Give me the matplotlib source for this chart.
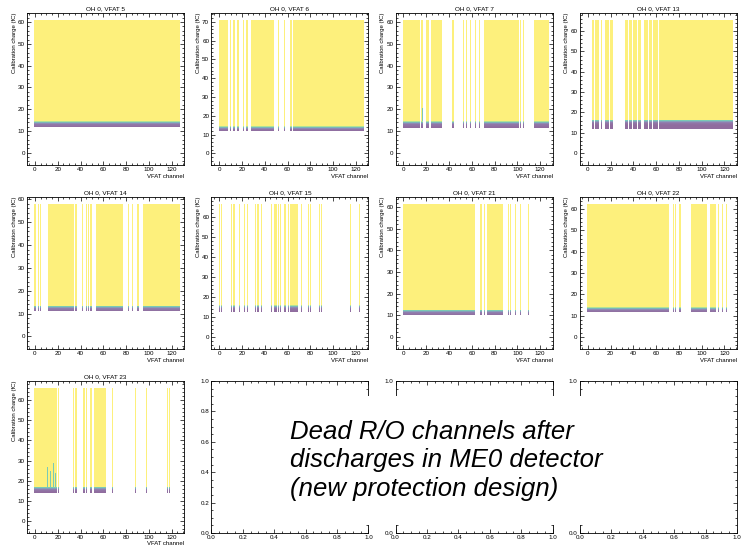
import numpy as np
import matplotlib
matplotlib.use("Agg")
import matplotlib.pyplot as plt
from matplotlib.ticker import MultipleLocator, AutoMinorLocator

plt.rcParams["font.family"] = ["Liberation Sans", "DejaVu Sans"]

vfats = [5, 6, 7, 13, 14, 15, 21, 22, 23]
# end of the calibration scan (fC), differs per VFAT
charge_max = [61.0, 71.0, 61.0, 65.5, 58.0, 66.5, 61.5, 62.5, 66.0]
charge_min = -2.5
bin_fc = 0.25
# charge where the channel reaches full efficiency (fC)
full_eff = [14.5, 14.5, 14.5, 16.5, 13.5, 16.0, 12.5, 14.0, 17.0]
# how far the turn-on tail reaches below full efficiency (fC)
tail = [2.5, 2.5, 3.0, 4.5, 2.5, 3.5, 2.5, 2.5, 3.0]

# channels still responding, as (first, last) ranges
alive_channels = {
    5: [(0, 127)],
    6: [(0, 7), (10, 10), (13, 13), (16, 17), (21, 21), (24, 25), (28, 48),
        (52, 52), (57, 57), (63, 63), (65, 127)],
    7: [(0, 14), (16, 17), (20, 22), (25, 33), (43, 44), (53, 53), (55, 55),
        (59, 59), (63, 63), (67, 67), (71, 101), (103, 103), (105, 105),
        (115, 127)],
    13: [(4, 5), (7, 9), (12, 12), (16, 18), (20, 22), (33, 35), (37, 38),
         (40, 43), (45, 46), (50, 52), (54, 56), (58, 61), (63, 127)],
    14: [(0, 0), (3, 3), (5, 5), (12, 34), (36, 36), (42, 42), (45, 45),
         (47, 47), (49, 50), (54, 77), (82, 82), (86, 86), (90, 91), (95, 127)],
    15: [(0, 0), (2, 2), (11, 11), (13, 13), (18, 18), (22, 22), (25, 25),
         (32, 32), (34, 34), (37, 37), (46, 46), (49, 50), (52, 52), (54, 54),
         (57, 58), (61, 61), (63, 69), (72, 72), (78, 78), (80, 80), (88, 88),
         (90, 90), (115, 115), (123, 123)],
    21: [(0, 62), (68, 68), (71, 71), (74, 87), (92, 92), (94, 94), (98, 98),
         (103, 103), (110, 110)],
    22: [(0, 71), (75, 75), (77, 77), (81, 81), (91, 104), (108, 112),
         (115, 115), (118, 118), (122, 122)],
    23: [(0, 19), (21, 21), (34, 34), (36, 36), (43, 43), (45, 45), (49, 50),
         (52, 62), (68, 68), (88, 88), (98, 98), (116, 116), (118, 118)],
}
# channels with a slow turn-on: channel -> extra fC before full efficiency
slow_channels = {7: {17: 6.0}, 23: {11: 10.0, 14: 8.0, 16: 12.0, 18: 7.0}}
slow_level = 0.6

# occupancy in the 0.25 fC bins just below full efficiency, going down
turn_on = [0.8, 0.6, 0.45, 0.3, 0.18, 0.12, 0.08, 0.06, 0.05, 0.04, 0.04,
           0.03, 0.03, 0.03, 0.03, 0.03, 0.03, 0.03, 0.03, 0.03]


def occupancy(i):
    vf = vfats[i]
    y_edges = np.arange(charge_min, charge_max[i] + 0.01, bin_fc)
    yc = 0.5 * (y_edges[:-1] + y_edges[1:])
    z = np.zeros((len(yc), 128))
    below = np.where(yc < full_eff[i])[0][::-1]
    n_tail = int(tail[i] / bin_fc)
    for lo, hi in alive_channels[vf]:
        for ch in range(lo, hi + 1):
            start = full_eff[i] + slow_channels.get(vf, {}).get(ch, 0.0)
            z[yc >= start, ch] = 1.0
            z[(yc >= full_eff[i]) & (yc < start), ch] = slow_level
            for k, j in enumerate(below[:n_tail]):
                z[j, ch] = turn_on[k]
    return y_edges, np.ma.masked_equal(z, 0)


def style_axes(ax):
    ax.tick_params(which="both", direction="in", top=True, right=True,
                   width=0.5, labelsize=4.5, pad=1.5)
    ax.tick_params(which="major", length=3)
    ax.tick_params(which="minor", length=1.5)
    ax.xaxis.set_minor_locator(AutoMinorLocator())
    ax.yaxis.set_minor_locator(AutoMinorLocator())
    for s in ax.spines.values():
        s.set_linewidth(0.6)


fig, axes = plt.subplots(3, 4, figsize=(7.41, 5.52), dpi=100)
fig.subplots_adjust(left=0.0364, right=0.9946, top=0.9764, bottom=0.0344,
                    wspace=0.172, hspace=0.21)
axes = axes.ravel()

x_edges = np.arange(129) - 0.5
for i, vf in enumerate(vfats):
    ax = axes[i]
    y_edges, z = occupancy(i)
    ax.pcolormesh(x_edges, y_edges, z, cmap="viridis", vmin=0, vmax=1,
                  alpha=0.6, shading="flat", edgecolors="none")
    r = charge_max[i] - charge_min
    ax.set_xlim(-7, 131)
    ax.set_ylim(charge_min - 0.05 * r, charge_max[i] + 0.05 * r)
    ax.xaxis.set_major_locator(MultipleLocator(20))
    ax.yaxis.set_major_locator(MultipleLocator(10))
    style_axes(ax)
    ax.set_title(f"OH 0, VFAT {vf}", fontsize=4.6, pad=2)
    ax.set_xlabel("VFAT channel", loc="right", fontsize=4.3, labelpad=1)
    ax.set_ylabel("Calibration charge (fC)", loc="top", fontsize=4.3,
                  labelpad=1)

for ax in axes[len(vfats):]:
    ax.set_xlim(0, 1)
    ax.set_ylim(0, 1)
    ax.xaxis.set_major_locator(MultipleLocator(0.2))
    ax.yaxis.set_major_locator(MultipleLocator(0.2))
    style_axes(ax)

# note drawn over the empty panels, white box hides what is underneath
fig.text(0.391, 0.166,
         "Dead R/O channels after\ndischarges in ME0 detector\n(new protection design)",
         fontsize=18.5, style="italic", ha="left", va="center", linespacing=1.25,
         bbox=dict(facecolor="white", edgecolor="none", pad=17))

fig.savefig("out.png", dpi=100)
